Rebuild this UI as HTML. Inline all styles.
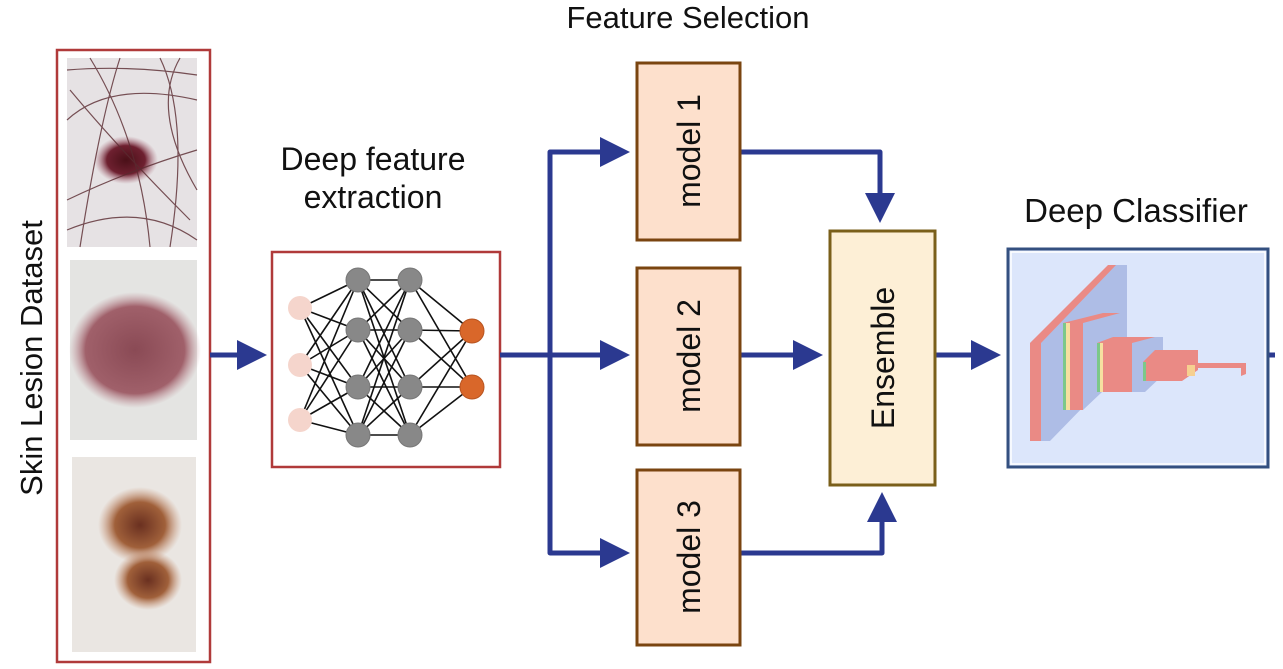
<!DOCTYPE html>
<html><head><meta charset="utf-8"><style>
html,body{margin:0;padding:0;background:#fff;}
svg{display:block;}
text{font-family:"Liberation Sans",Arial,sans-serif;fill:#111;}
</style></head><body>
<svg width="1283" height="669" viewBox="0 0 1283 669" xmlns="http://www.w3.org/2000/svg">
<defs>
<radialGradient id="l1" cx="0.5" cy="0.5" r="0.5"><stop offset="0" stop-color="#4a1018"/><stop offset="0.6" stop-color="#6e2030"/><stop offset="1" stop-color="#b07080" stop-opacity="0"/></radialGradient>
<radialGradient id="l2" cx="0.5" cy="0.5" r="0.5"><stop offset="0" stop-color="#8a4a55"/><stop offset="0.75" stop-color="#a0606a"/><stop offset="1" stop-color="#c09098" stop-opacity="0"/></radialGradient>
<radialGradient id="l3" cx="0.5" cy="0.5" r="0.5"><stop offset="0" stop-color="#6a3020"/><stop offset="0.6" stop-color="#a0603a"/><stop offset="1" stop-color="#c89070" stop-opacity="0"/></radialGradient>
<marker id="ah" markerWidth="6" markerHeight="6" refX="5" refY="3" orient="auto" markerUnits="strokeWidth"><path d="M0,0 L6,3 L0,6 z" fill="#2b3990"/></marker>
</defs>

<!-- Texts -->
<text x="688" y="28" font-size="31" text-anchor="middle">Feature Selection</text>
<text x="373" y="170" font-size="32" text-anchor="middle">Deep feature</text>
<text x="373" y="208" font-size="32" text-anchor="middle">extraction</text>
<text x="1136" y="222" font-size="33" text-anchor="middle">Deep Classifier</text>
<text transform="translate(42,358) rotate(-90)" font-size="31" text-anchor="middle">Skin Lesion Dataset</text>

<!-- Dataset box -->
<rect x="57" y="50" width="153" height="612" fill="#fff" stroke="#b03a3a" stroke-width="2.5"/>
<rect x="67" y="58" width="130" height="189" fill="#e6e2e4"/>
<ellipse cx="126" cy="160" rx="32" ry="24" fill="url(#l1)"/>
<g stroke="#5a2a30" stroke-width="1.2" fill="none" opacity="0.8">
<path d="M70,90 Q120,150 190,220"/><path d="M90,58 Q140,140 150,247"/><path d="M67,200 Q130,170 197,150"/>
<path d="M120,58 Q100,120 80,247"/><path d="M160,58 Q190,120 170,247"/><path d="M67,120 Q110,80 197,100"/>
<path d="M67,230 Q140,200 197,240"/><path d="M180,58 Q150,110 197,190"/><path d="M67,70 Q130,65 197,75"/>
</g>
<rect x="70" y="260" width="127" height="180" fill="#e4e4e2"/>
<ellipse cx="135" cy="350" rx="66" ry="58" fill="url(#l2)"/>
<rect x="72" y="457" width="124" height="195" fill="#eae6e2"/>
<ellipse cx="140" cy="525" rx="42" ry="38" fill="url(#l3)"/>
<ellipse cx="148" cy="580" rx="34" ry="30" fill="url(#l3)"/>

<!-- arrow dataset -> net -->
<line x1="210" y1="355" x2="262" y2="355" stroke="#2b3990" stroke-width="5" marker-end="url(#ah)"/>

<!-- Network box -->
<rect x="272" y="252" width="228" height="215" fill="#fff" stroke="#b03a3a" stroke-width="2.5"/>
<g stroke="#111" stroke-width="1.6">
<line x1="300" y1="308" x2="358" y2="280"/><line x1="300" y1="308" x2="358" y2="330"/><line x1="300" y1="308" x2="358" y2="387"/><line x1="300" y1="308" x2="358" y2="435"/>
<line x1="300" y1="365" x2="358" y2="280"/><line x1="300" y1="365" x2="358" y2="330"/><line x1="300" y1="365" x2="358" y2="387"/><line x1="300" y1="365" x2="358" y2="435"/>
<line x1="300" y1="420" x2="358" y2="280"/><line x1="300" y1="420" x2="358" y2="330"/><line x1="300" y1="420" x2="358" y2="387"/><line x1="300" y1="420" x2="358" y2="435"/>

<line x1="358" y1="280" x2="410" y2="280"/><line x1="358" y1="280" x2="410" y2="330"/><line x1="358" y1="280" x2="410" y2="387"/><line x1="358" y1="280" x2="410" y2="435"/>
<line x1="358" y1="330" x2="410" y2="280"/><line x1="358" y1="330" x2="410" y2="330"/><line x1="358" y1="330" x2="410" y2="387"/><line x1="358" y1="330" x2="410" y2="435"/>
<line x1="358" y1="387" x2="410" y2="280"/><line x1="358" y1="387" x2="410" y2="330"/><line x1="358" y1="387" x2="410" y2="387"/><line x1="358" y1="387" x2="410" y2="435"/>
<line x1="358" y1="435" x2="410" y2="280"/><line x1="358" y1="435" x2="410" y2="330"/><line x1="358" y1="435" x2="410" y2="387"/><line x1="358" y1="435" x2="410" y2="435"/>

<line x1="410" y1="280" x2="472" y2="331"/><line x1="410" y1="280" x2="472" y2="387"/>
<line x1="410" y1="330" x2="472" y2="331"/><line x1="410" y1="330" x2="472" y2="387"/>
<line x1="410" y1="387" x2="472" y2="331"/><line x1="410" y1="387" x2="472" y2="387"/>
<line x1="410" y1="435" x2="472" y2="331"/><line x1="410" y1="435" x2="472" y2="387"/>
</g>
<g fill="#f5d5cc"><circle cx="300" cy="308" r="12"/><circle cx="300" cy="365" r="12"/><circle cx="300" cy="420" r="12"/></g>
<g fill="#888" stroke="#777"><circle cx="358" cy="280" r="12"/><circle cx="358" cy="330" r="12"/><circle cx="358" cy="387" r="12"/><circle cx="358" cy="435" r="12"/>
<circle cx="410" cy="280" r="12"/><circle cx="410" cy="330" r="12"/><circle cx="410" cy="387" r="12"/><circle cx="410" cy="435" r="12"/></g>
<g fill="#d9672a" stroke="#b85420"><circle cx="472" cy="331" r="12"/><circle cx="472" cy="387" r="12"/></g>

<!-- connectors -->
<g stroke="#2b3990" stroke-width="5" fill="none" stroke-linejoin="round">
<line x1="500" y1="355" x2="625" y2="355" marker-end="url(#ah)"/>
<polyline points="625,152 550,152 550,553 625,553" />
<line x1="600" y1="152" x2="625" y2="152" marker-end="url(#ah)"/>
<line x1="600" y1="553" x2="625" y2="553" marker-end="url(#ah)"/>
<polyline points="740,152 880,152 880,218" marker-end="url(#ah)"/>
<line x1="740" y1="355" x2="818" y2="355" marker-end="url(#ah)"/>
<polyline points="740,553 882,553 882,497" marker-end="url(#ah)"/>
<line x1="935" y1="355" x2="996" y2="355" marker-end="url(#ah)"/>
<line x1="1268" y1="355" x2="1275" y2="355"/>
</g>

<!-- model boxes -->
<g fill="#fde0cc" stroke="#7a4510" stroke-width="3">
<rect x="637" y="63" width="103" height="177"/>
<rect x="637" y="268" width="103" height="177"/>
<rect x="637" y="470" width="103" height="175"/>
</g>
<rect x="830" y="231" width="105" height="254" fill="#fdefd6" stroke="#7a5f1a" stroke-width="3"/>
<g font-size="32">
<text transform="translate(700,151) rotate(-90)" text-anchor="middle">model 1</text>
<text transform="translate(700,356) rotate(-90)" text-anchor="middle">model 2</text>
<text transform="translate(700,557) rotate(-90)" text-anchor="middle">model 3</text>
<text transform="translate(894,358) rotate(-90)" text-anchor="middle">Ensemble</text>
</g>

<!-- classifier -->
<rect x="1008" y="249" width="260" height="218" fill="#dce6fb" stroke="#345080" stroke-width="3"/>
<rect x="1011" y="252" width="254" height="212" fill="none" stroke="#fff" stroke-width="1.5"/>
<polygon points="1030,343 1112,265 1127,265 1127,362 1050,441 1030,441" fill="#aebde6"/>
<polygon points="1030,343 1108,265 1116,265 1041,343" fill="#ea8a85"/>
<rect x="1030" y="343" width="11" height="98" fill="#ea8a85"/>
<polygon points="1063,323 1110,313 1120,313 1120,375 1083,410 1063,410" fill="#aebde6"/>
<polygon points="1063,323 1103,313 1120,313 1083,323" fill="#ea8a85"/>
<rect x="1063" y="323" width="3" height="87" fill="#7cc88a"/>
<rect x="1066" y="323" width="4" height="87" fill="#f6e0a0"/>
<rect x="1070" y="323" width="13" height="87" fill="#ea8a85"/>
<polygon points="1097,343 1113,337 1163,337 1163,375 1145,392 1097,392" fill="#aebde6"/>
<polygon points="1097,343 1113,337 1155,337 1132,343" fill="#ea8a85"/>
<rect x="1097" y="343" width="3" height="49" fill="#7cc88a"/>
<rect x="1100" y="343" width="3" height="49" fill="#f6e0a0"/>
<rect x="1103" y="343" width="29" height="49" fill="#ea8a85"/>
<polygon points="1143,362 1155,350 1198,350 1198,370 1182,381 1143,381" fill="#ea8a85"/>
<rect x="1143" y="362" width="3" height="19" fill="#7cc88a"/>
<rect x="1187" y="365" width="8" height="11" fill="#f6d090"/>
<polygon points="1195,363 1246,363 1246,374 1241,376 1241,368 1195,368" fill="#ea8a85"/>
</svg>
</body></html>
